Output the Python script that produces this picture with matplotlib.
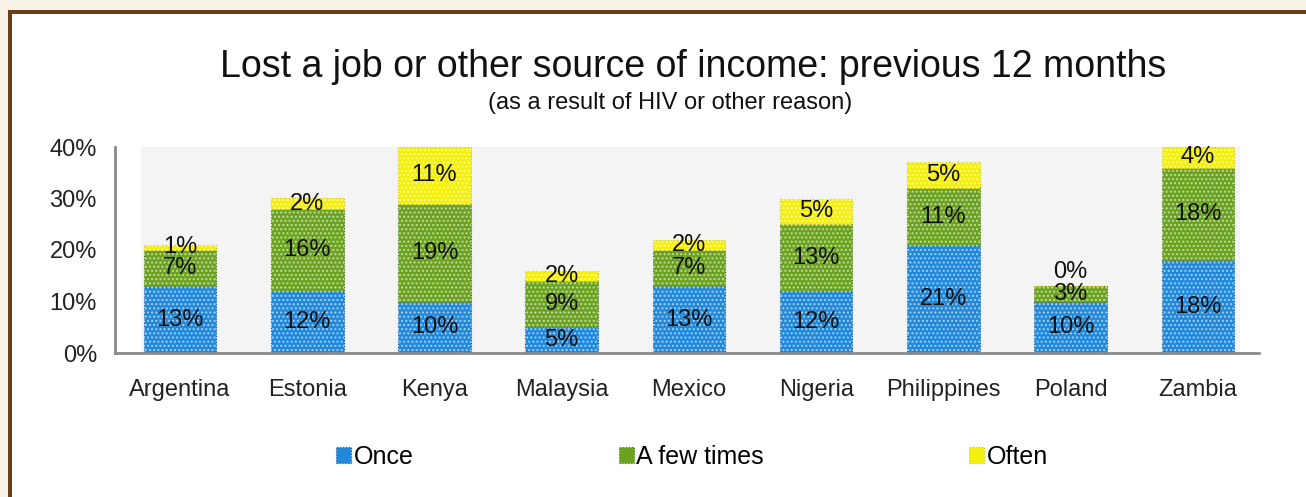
import numpy as np
import matplotlib.pyplot as plt
from matplotlib.patches import Rectangle

plt.rcParams['font.family'] = ['Liberation Sans', 'DejaVu Sans']

countries = ['Argentina', 'Estonia', 'Kenya', 'Malaysia', 'Mexico',
             'Nigeria', 'Philippines', 'Poland', 'Zambia']
once = [13, 12, 10, 5, 13, 12, 21, 10, 18]
few_times = [7, 16, 19, 9, 7, 13, 11, 3, 18]
often = [1, 2, 11, 2, 2, 5, 5, 0, 4]
series_names = ['Once', 'A few times', 'Often']
yticks = [0, 10, 20, 30, 40]

colors = ['#2189dc', '#6ba320', '#f5f00a']
edge_colors = ['#1560a8', '#4a7a14', '#c9c400']

W, H = 1306, 497
fig = plt.figure(figsize=(W / 100, H / 100), dpi=100)
fig.patch.set_facecolor('#f7f2e7')
# brown frame and white panel
fig.add_artist(Rectangle((8 / W, 0), 1, (H - 10) / H, transform=fig.transFigure,
                         facecolor='#6b3e18', edgecolor='none', zorder=0))
fig.add_artist(Rectangle((12 / W, 0), 1, (H - 14) / H, transform=fig.transFigure,
                         facecolor='white', edgecolor='none', zorder=0))

ax = fig.add_axes([115 / W, 1 - 353 / H, (1259 - 115) / W, (353 - 147) / H])
ax.set_facecolor('none')
x = np.arange(len(countries))
ax.axvspan(-0.31, 8.33, color='#f4f4f4', zorder=0, lw=0)

width = 0.57
bottom = np.zeros(len(countries))
handles = []
for vals, name, c, ec in zip([once, few_times, often], series_names, colors, edge_colors):
    vals = np.array(vals, dtype=float)
    b = ax.bar(x, vals, width, bottom=bottom, color=c, edgecolor=ec, lw=0.8,
               ls=':', zorder=2, label=name)
    ax.bar(x, vals, width, bottom=bottom, facecolor='none', edgecolor='white',
           hatch='....', lw=0, zorder=3, alpha=0.55)
    handles.append(b)
    for xi, v, b0 in zip(x, vals, bottom):
        if v == 0:
            # empty segment: put the label just above the bar
            ax.text(xi, b0 + 0.6, f'{v:.0f}%', ha='center', va='bottom',
                    fontsize=17, color='#111111', zorder=4)
        else:
            ax.text(xi, b0 + v / 2, f'{v:.0f}%', ha='center', va='center',
                    fontsize=17, color='#111111', zorder=4)
    bottom += vals

ax.set_xlim(-0.511, 8.48)
ax.set_ylim(0, 40)
ax.set_yticks(yticks)
ax.set_yticklabels([f'{t}%' for t in yticks])
ax.set_xticks(x)
ax.set_xticklabels(countries)
ax.tick_params(axis='both', length=0, labelsize=17, colors='#222222')
ax.tick_params(axis='y', pad=13)
ax.tick_params(axis='x', pad=19)
for s in ['top', 'right']:
    ax.spines[s].set_visible(False)
for s in ['left', 'bottom']:
    ax.spines[s].set_color('#8a8a8a')
    ax.spines[s].set_linewidth(2)

fig.text(693 / W, 1 - 67 / H, 'Lost a job or other source of income: previous 12 months',
         ha='center', va='center', fontsize=27, color='#111111')
fig.text(670 / W, 1 - 103 / H, '(as a result of HIV or other reason)',
         ha='center', va='center', fontsize=17, color='#111111')

fig.legend(handles=handles, labels=series_names, loc='center',
           bbox_to_anchor=(692 / W, 1 - 457 / H), ncol=3, frameon=False,
           fontsize=18, handlelength=0.6, handleheight=0.6, handletextpad=0.1,
           columnspacing=8.2)

fig.savefig('out.png', dpi=100, facecolor=fig.get_facecolor())
